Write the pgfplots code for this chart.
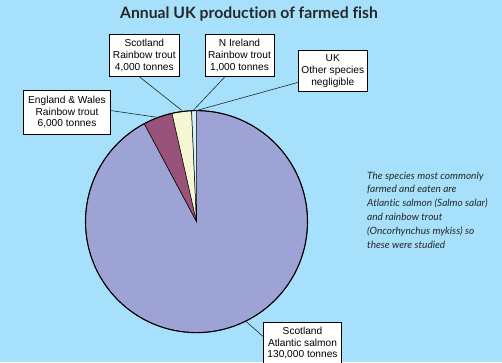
\documentclass[border=0pt]{standalone}
\usepackage{pgfplots}
\pgfplotsset{compat=1.18}
\usepackage{pgfplotstable}
\usepackage{fontspec}
\setmainfont{Liberation Sans}
\newfontfamily\latofont[Ligatures={NoCommon}]{Lato}
\definecolor{bg}{RGB}{166,224,250}
\definecolor{salmonc}{RGB}{157,163,212}
\definecolor{maroonc}{RGB}{153,82,122}
\definecolor{creamc}{RGB}{246,246,212}
\definecolor{cyanc}{RGB}{212,242,246}
\definecolor{txt}{RGB}{40,40,40}

% production in thousand tonnes, counter-clockwise from the top
\pgfplotstableread{
name kt
Other 0
NIreland 1
ScotTrout 4
EngWales 6
Salmon 130
}\fishdata

\pgfplotstablegetelem{0}{kt}\of\fishdata\edef\vOT{\pgfplotsretval}
\pgfplotstablegetelem{1}{kt}\of\fishdata\edef\vNI{\pgfplotsretval}
\pgfplotstablegetelem{2}{kt}\of\fishdata\edef\vST{\pgfplotsretval}
\pgfplotstablegetelem{3}{kt}\of\fishdata\edef\vEW{\pgfplotsretval}
\pgfplotstablegetelem{4}{kt}\of\fishdata\edef\vSA{\pgfplotsretval}
\pgfmathsetmacro\total{\vOT+\vNI+\vST+\vEW+\vSA}
\pgfmathsetmacro\aO{90}
\pgfmathsetmacro\aA{\aO+360*(\vOT/\total)}
\pgfmathsetmacro\aB{\aA+360*(\vNI/\total)}
\pgfmathsetmacro\aC{\aB+360*(\vST/\total)}
\pgfmathsetmacro\aD{\aC+360*(\vEW/\total)}
\pgfmathsetmacro\aE{\aD+360*(\vSA/\total)}

\begin{document}
\begin{tikzpicture}[x=1bp,y=1bp,
  box/.style={draw=black, line width=0.6bp, fill=white, inner sep=0pt,
    align=center, font=\fontsize{10.2}{12}\selectfont, text=black},
  lead/.style={draw=black!85, line width=0.6bp}]
\fill[bg] (0,0) rectangle (502,-362);
\useasboundingbox (0,0) rectangle (502,-362);

\node[anchor=base, font=\latofont\bfseries\fontsize{15.8}{18}\selectfont, text=txt]
  at (249,-18.3) {Annual UK production of farmed fish};

\begin{axis}[anchor=center, at={(196.5bp,-221.6bp)},
  x=111bp, y=111bp, xmin=-1, xmax=1, ymin=-1, ymax=1,
  hide axis, clip=false]
\addplot[draw=none] coordinates {(0,0)};
\filldraw[fill=salmonc, draw=black, line width=0.5bp]
  (axis cs:0,0) -- ++(\aD:111bp) arc[start angle=\aD, end angle=\aE, radius=111bp] -- cycle;
\filldraw[fill=maroonc, draw=black, line width=0.5bp]
  (axis cs:0,0) -- ++(\aC:111bp) arc[start angle=\aC, end angle=\aD, radius=111bp] -- cycle;
\filldraw[fill=creamc, draw=black, line width=0.5bp]
  (axis cs:0,0) -- ++(\aB:111bp) arc[start angle=\aB, end angle=\aC, radius=111bp] -- cycle;
\filldraw[fill=cyanc, draw=black, line width=0.5bp]
  (axis cs:0,0) -- ++(\aA:111bp) arc[start angle=\aA, end angle=\aB, radius=111bp] -- cycle;
\draw[black, line width=1.1bp] (axis cs:0,0) circle[radius=111bp];
\end{axis}

% leader lines
\draw[lead] (139.3,-76.7) -- (181.7,-110.3);
\draw[lead] (225,-76.7) -- (193.6,-110);
\draw[lead] (298.3,-82.3) -- (196.2,-110.6);
\draw[lead] (110.5,-110.5) -- (158.5,-117.5);
\draw[lead] (263.3,-336.7) -- (245.8,-321.3);

% boxes
\node[box, minimum width=70bp, minimum height=42.4bp] at (144.3,-55.5)
  {Scotland\\Rainbow trout\\4,000 tonnes};
\node[box, minimum width=69bp, minimum height=42.4bp] at (239.5,-55.5)
  {N Ireland\\Rainbow trout\\1,000 tonnes};
\node[box, minimum width=69bp, minimum height=41.7bp] at (332.8,-70.8)
  {UK\\Other species\\negligible};
\node[box, minimum width=87bp, minimum height=44bp] at (67,-112)
  {England \& Wales\\Rainbow trout\\6,000 tonnes};
\node[box, minimum width=78.4bp, minimum height=42bp] at (302.5,-343)
  {Scotland\\Atlantic salmon\\130,000 tonnes};

% note
\begin{scope}[every node/.style={anchor=base west, inner sep=0pt, text=txt,
  font=\latofont\itshape\fontsize{10.1}{12}\selectfont}]
\node at (367,-179) {The species most commonly};
\node at (367,-192.8) {farmed and eaten are};
\node at (367,-206.6) {Atlantic salmon (Salmo salar)};
\node at (367,-220.4) {and rainbow trout};
\node at (367,-234.2) {(Oncorhynchus mykiss) so};
\node at (367,-248) {these were studied};
\end{scope}
\end{tikzpicture}
\end{document}
